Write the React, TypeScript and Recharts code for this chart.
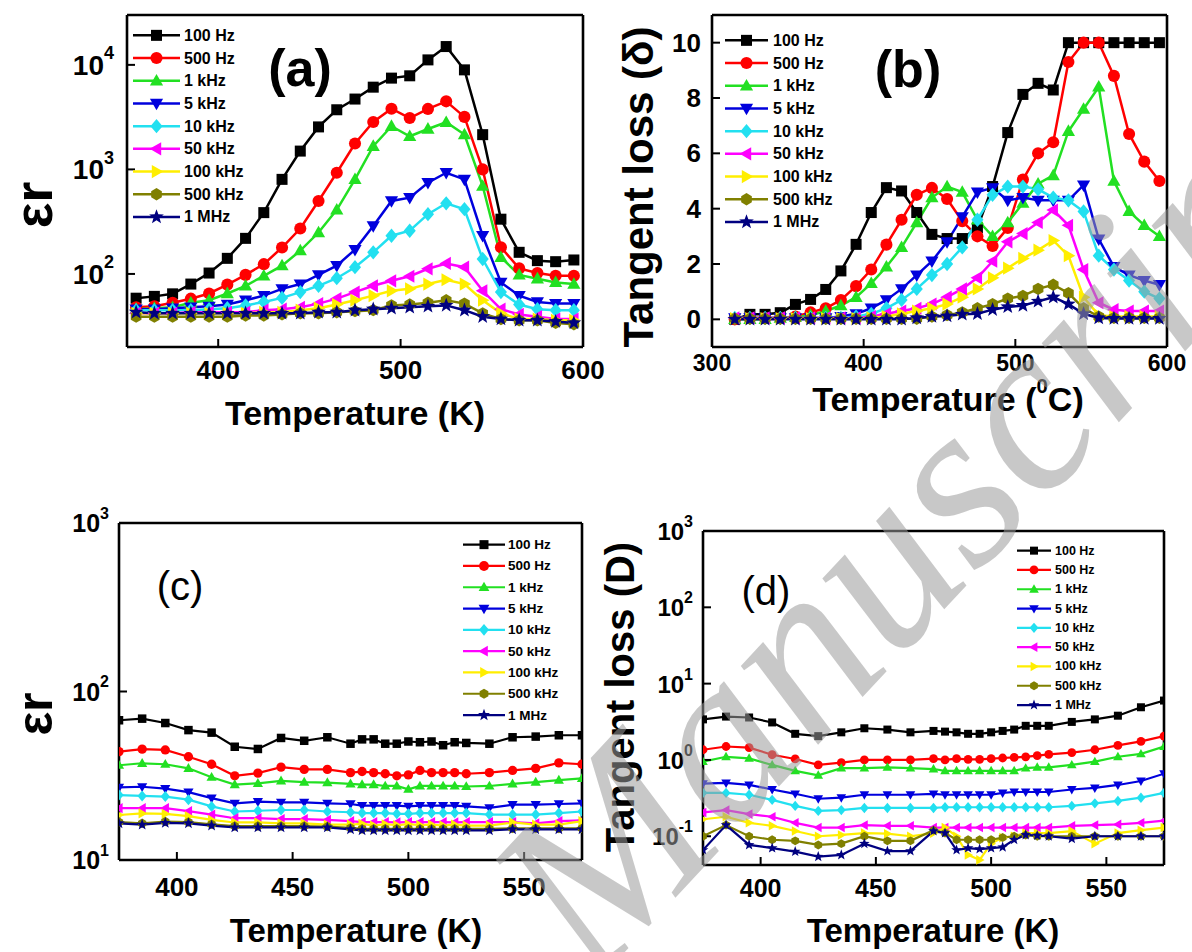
import React from 'react';
import { LineChart, Line, XAxis, YAxis, Legend } from 'recharts';

const FONT = '"Liberation Sans", Arial, Helvetica, sans-serif';

// ---------- series metadata ----------
const SERIES_NAMES = ['100 Hz', '500 Hz', '1 kHz', '5 kHz', '10 kHz', '50 kHz', '100 kHz', '500 kHz', '1 MHz'];
const SERIES_COLORS = ['#000000', '#ff0000', '#22e022', '#0000dd', '#22e0f0', '#ff00ff', '#ffee00', '#808000', '#000080'];
const SERIES_SHAPES = ['square', 'circle', 'triUp', 'triDown', 'diamond', 'triLeft', 'triRight', 'hexagon', 'star'];

// ---------- panel (a): permittivity vs T (K) ----------
const TEMP_A = [355, 365, 375, 385, 395, 405, 415, 425, 435, 445, 455, 465, 475, 485, 495, 505, 515, 525, 535, 545, 555, 565, 575, 585, 595];
const A_100HZ = [58.6, 61, 64.5, 80, 102, 141, 219, 386, 803, 1497, 2550, 3720, 4710, 6120, 7470, 7860, 11160, 14970, 8960, 2150, 334, 161, 134, 131, 136];
const A_500HZ = [48, 49, 53, 58, 65, 79, 98, 124, 179, 272, 499, 929, 1770, 2845, 3810, 3100, 3790, 4480, 3180, 1000, 180, 113, 102, 96, 96];
const A_1KHZ = [46, 47, 48, 53, 56, 65, 77, 96, 120, 167, 249, 410, 803, 1667, 2588, 2075, 2437, 2825, 2155, 693, 144, 98, 90, 83, 80];
const A_5KHZ = [46, 46, 47, 48, 49, 51, 56, 62, 72, 80, 98, 120, 171, 288, 499, 537, 746, 929, 803, 232, 83, 62, 54, 52, 52];
const A_10KHZ = [45, 45, 45, 45, 46, 47, 50, 54, 59, 67, 77, 91, 116, 161, 232, 259, 373, 474, 416, 139, 67, 51, 46, 45, 45];
const A_50KHZ = [42, 42, 42, 43, 43, 43, 43, 45, 46, 48, 52, 58, 67, 77, 86, 95, 112, 126, 116, 69, 46, 41, 39, 37, 37];
const A_100KHZ = [42, 42, 42, 42, 42, 42, 42, 43, 43, 45, 47, 51, 56, 62, 69, 72, 80, 88, 80, 56, 42, 37, 37, 36, 36];
const A_500KHZ = [39, 39, 39, 39, 39, 39, 40, 40, 41, 42, 42, 43, 44, 45, 50, 51, 53, 56, 52, 42, 37, 36, 36, 34, 33];
const A_1MHZ = [43, 42, 42, 42, 42, 42, 42, 42, 42, 42, 43, 43, 45, 46, 47, 48, 49, 50, 45, 39, 37, 36, 36, 35, 34];
const X_TICKS_A = [400, 500, 600];
const X_MINOR_A = [450, 550];
const Y_TICKS_A = [100, 1000, 10000];

// ---------- panel (b): tangent loss vs T (°C) ----------
const TEMP_B = [315, 325, 335, 345, 355, 365, 375, 385, 395, 405, 415, 425, 435, 445, 455, 465, 475, 485, 495, 505, 515, 525, 535, 545, 555, 565, 575, 585, 595];
const B_100HZ = [0, 0.18, 0.18, 0.24, 0.54, 0.72, 1.08, 1.75, 2.71, 3.86, 4.76, 4.64, 3.86, 3.07, 2.92, 2.92, 3.31, 4.8, 6.75, 8.13, 8.53, 8.29, 10, 10, 10, 10, 10, 10, 10];
const B_500HZ = [0, 0.05, 0.05, 0.05, 0.1, 0.25, 0.4, 0.7, 1.2, 1.8, 2.7, 3.6, 4.5, 4.75, 4.35, 3.55, 3.0, 2.65, 3.3, 5.05, 6.0, 6.4, 9.3, 10, 10, 8.8, 6.7, 5.7, 5.0];
const B_1KHZ = [0, 0, 0, 0.05, 0.08, 0.15, 0.3, 0.5, 0.8, 1.3, 1.9, 2.6, 3.5, 4.4, 4.8, 4.6, 3.6, 3.0, 3.5, 4.2, 4.9, 5.2, 6.8, 7.6, 8.4, 5.0, 3.9, 3.4, 3.0];
const B_5KHZ = [0.05, 0.05, 0.05, 0.05, 0.05, 0.05, 0.05, 0.1, 0.2, 0.4, 0.7, 1.1, 1.6, 2.1, 2.8, 3.7, 4.6, 4.75, 4.3, 4.4, 4.3, 4.3, 4.3, 4.85, 2.9, 1.9, 1.6, 1.4, 1.25];
const B_10KHZ = [0.05, 0.05, 0.05, 0.05, 0.05, 0.05, 0.05, 0.05, 0.1, 0.2, 0.4, 0.7, 1.1, 1.6, 2.0, 2.6, 3.6, 4.5, 4.8, 4.8, 4.7, 4.4, 4.3, 3.9, 2.3, 1.8, 1.4, 1.0, 0.75];
const B_50KHZ = [0.05, 0.05, 0.05, 0.05, 0.05, 0.05, 0.05, 0.05, 0.05, 0.1, 0.2, 0.3, 0.4, 0.55, 0.8, 1.1, 1.5, 2.1, 2.8, 3.1, 3.5, 3.95, 3.4, 1.8, 0.6, 0.35, 0.3, 0.3, 0.3];
const B_100KHZ = [0.03, 0.03, 0.03, 0.03, 0.03, 0.03, 0.03, 0.03, 0.03, 0.05, 0.1, 0.2, 0.3, 0.4, 0.55, 0.8, 1.1, 1.5, 1.85, 2.2, 2.5, 2.85, 2.3, 0.8, 0.15, 0.1, 0.1, 0.1, 0.1];
const B_500KHZ = [0.02, 0.02, 0.02, 0.02, 0.02, 0.02, 0.02, 0.02, 0.02, 0.02, 0.02, 0.02, 0.02, 0.1, 0.15, 0.25, 0.4, 0.55, 0.75, 0.85, 1.1, 1.25, 0.95, 0.4, 0.1, 0.05, 0.05, 0.05, 0.05];
const B_1MHZ = [0, 0, 0, 0, 0, 0, 0, 0, 0, 0, 0, 0, 0.05, 0.1, 0.12, 0.18, 0.2, 0.35, 0.45, 0.5, 0.65, 0.8, 0.55, 0.2, 0.05, 0.03, 0.03, 0.03, 0.03];
const X_TICKS_B = [300, 400, 500, 600];
const X_MINOR_B = [350, 450, 550];
const Y_TICKS_B = [0, 2, 4, 6, 8, 10];
const Y_MINOR_B = [1, 3, 5, 7, 9];

// ---------- panel (c): permittivity vs T (K) ----------
const TEMP_C = [375, 385, 395, 405, 415, 425, 435, 445, 455, 465, 475, 480, 485, 490, 495, 500, 505, 510, 515, 520, 525, 535, 545, 555, 565, 575];
const C_100HZ = [67.5, 69, 65, 59, 57, 47, 45.6, 53, 51, 53.5, 49, 52, 52, 49, 49, 50.5, 50, 50.5, 48, 50, 49.5, 49, 53.5, 54, 55, 55];
const C_500HZ = [44, 45.5, 45, 41, 37, 31.6, 32.8, 35.6, 34.5, 34.5, 33, 33.5, 33, 32.5, 31.6, 32, 34, 33, 33, 33, 32.5, 33, 34, 35, 37.7, 37];
const C_1KHZ = [36.5, 37.5, 37, 35, 31, 28, 28.5, 29.5, 29, 28.8, 28.3, 28, 28, 27.5, 27.5, 26.3, 27.5, 27.5, 27.5, 27.5, 27.3, 27.5, 28.3, 29, 29.8, 30.5];
const C_5KHZ = [27, 27.2, 26.5, 25.3, 23.3, 21.7, 22.2, 22, 22, 21.7, 21.5, 21, 21, 21, 21, 20.8, 21, 21, 21, 21, 20.8, 20.4, 21.3, 21.3, 21.5, 21.7];
const C_10KHZ = [24.3, 24, 23.8, 22.8, 20.8, 19.4, 19.6, 19.8, 19.8, 19.4, 19.2, 19, 19, 19, 18.8, 18.8, 19, 19, 19, 19, 19, 18.6, 18.6, 18.6, 19, 19.4];
const C_50KHZ = [20.3, 20.3, 20.3, 19.5, 18.6, 17.7, 17.7, 17.5, 17.5, 17.3, 17, 16.8, 16.8, 16.8, 16.7, 16.8, 16.8, 16.8, 16.8, 16.7, 16.8, 16.8, 16.8, 16.5, 17, 17.2];
const C_100KHZ = [18.5, 18.9, 18.8, 18.2, 17.3, 16.7, 16.7, 16.5, 16.5, 16.2, 16.2, 16.4, 16, 16.3, 16.1, 16.3, 16.1, 16.2, 16, 16.2, 16, 16, 16.7, 16.2, 16.2, 17];
const C_500KHZ = [16.8, 16.5, 16.9, 16.8, 16.3, 15.9, 15.9, 15.9, 15.9, 15.8, 15.5, 15.3, 15.3, 15.3, 15.3, 15.3, 15.3, 15.3, 15.3, 15.3, 15.3, 15.3, 15.4, 15.4, 15.4, 15.4];
const C_1MHZ = [16.5, 16.2, 16.6, 16.5, 16, 15.6, 15.6, 15.6, 15.6, 15.6, 15.2, 15, 15, 15, 15, 15, 15, 15, 15, 15, 15, 15, 15.2, 15.2, 15.2, 15.2];
const X_TICKS_C = [400, 450, 500, 550];
const X_MINOR_C = [425, 475, 525];
const Y_TICKS_C = [10, 100, 1000];

// ---------- panel (d): tangent loss vs T (K) ----------
const TEMP_D = [375, 385, 395, 405, 415, 425, 435, 445, 455, 465, 475, 480, 485, 490, 495, 500, 505, 510, 515, 520, 525, 535, 545, 555, 565, 575];
const D_100HZ = [3.4, 3.7, 3.6, 3.1, 2.2, 2.05, 2.3, 2.6, 2.5, 2.3, 2.4, 2.35, 2.3, 2.2, 2.2, 2.3, 2.4, 2.5, 2.8, 2.8, 2.8, 3.15, 3.4, 3.8, 4.9, 6.0];
const D_500HZ = [1.36, 1.5, 1.45, 1.17, 1.03, 0.86, 0.92, 1.0, 1.0, 1.0, 1.04, 1.0, 1.04, 1.02, 1.02, 1.04, 1.06, 1.08, 1.1, 1.14, 1.18, 1.25, 1.36, 1.55, 1.75, 2.05];
const D_1KHZ = [0.95, 1.1, 1.05, 0.86, 0.72, 0.63, 0.78, 0.78, 0.8, 0.78, 0.76, 0.72, 0.72, 0.72, 0.72, 0.72, 0.72, 0.72, 0.78, 0.8, 0.8, 0.86, 0.95, 1.1, 1.2, 1.5];
const D_5KHZ = [0.49, 0.5, 0.47, 0.41, 0.36, 0.31, 0.32, 0.35, 0.35, 0.35, 0.36, 0.35, 0.35, 0.35, 0.35, 0.35, 0.37, 0.38, 0.38, 0.38, 0.38, 0.41, 0.43, 0.47, 0.53, 0.66];
const D_10KHZ = [0.37, 0.37, 0.35, 0.3, 0.25, 0.215, 0.22, 0.235, 0.235, 0.235, 0.235, 0.24, 0.24, 0.24, 0.24, 0.24, 0.24, 0.24, 0.24, 0.24, 0.24, 0.25, 0.27, 0.29, 0.32, 0.37];
const D_50KHZ = [0.205, 0.22, 0.195, 0.18, 0.15, 0.13, 0.13, 0.14, 0.137, 0.137, 0.13, 0.13, 0.13, 0.13, 0.13, 0.13, 0.13, 0.13, 0.13, 0.13, 0.13, 0.137, 0.14, 0.143, 0.15, 0.16];
const D_100KHZ = [0.167, 0.18, 0.15, 0.137, 0.117, 0.1, 0.104, 0.11, 0.108, 0.1, 0.11, 0.13, 0.1, 0.057, 0.049, 0.08, 0.096, 0.1, 0.11, 0.11, 0.11, 0.117, 0.08, 0.11, 0.12, 0.13];
const D_500KHZ = [0.1, 0.14, 0.1, 0.09, 0.087, 0.077, 0.08, 0.1, 0.087, 0.087, 0.12, 0.11, 0.09, 0.09, 0.09, 0.09, 0.096, 0.1, 0.104, 0.1, 0.1, 0.1, 0.1, 0.1, 0.1, 0.1];
const D_1MHZ = [0.066, 0.14, 0.077, 0.07, 0.063, 0.054, 0.057, 0.08, 0.064, 0.064, 0.117, 0.11, 0.066, 0.07, 0.068, 0.07, 0.072, 0.09, 0.104, 0.102, 0.1, 0.093, 0.1, 0.1, 0.1, 0.1];
const X_TICKS_D = [400, 450, 500, 550];
const X_MINOR_D = [425, 475, 525];
const Y_TICKS_D = [0.1, 1, 10, 100, 1000];

// ---------- helpers ----------
function logMinor(lo: number, hi: number): number[] {
  const out: number[] = [];
  for (let e = Math.floor(Math.log10(lo)); e <= Math.ceil(Math.log10(hi)); e++) {
    for (let m = 2; m <= 9; m++) {
      const v = parseFloat((m * Math.pow(10, e)).toPrecision(3));
      if (v > lo && v < hi) out.push(v);
    }
  }
  return out;
}

function buildRows(temps: number[], series: number[][]) {
  return temps.map((t, i) => {
    const r: any = { t };
    series.forEach((s, k) => { r['s' + k] = s[i]; });
    return r;
  });
}

function MarkerShape({ shape, cx, cy, size, color }: any) {
  const r = size / 2;
  const pts = (arr: number[][]) => arr.map(([a, b]) => `${(cx + a).toFixed(2)},${(cy + b).toFixed(2)}`).join(' ');
  switch (shape) {
    case 'square':
      return <rect x={cx - r} y={cy - r} width={size} height={size} fill={color} />;
    case 'circle':
      return <circle cx={cx} cy={cy} r={r * 1.1} fill={color} />;
    case 'triUp':
      return <polygon points={pts([[0, -r * 1.25], [r * 1.2, r * 0.85], [-r * 1.2, r * 0.85]])} fill={color} />;
    case 'triDown':
      return <polygon points={pts([[0, r * 1.25], [r * 1.2, -r * 0.85], [-r * 1.2, -r * 0.85]])} fill={color} />;
    case 'triLeft':
      return <polygon points={pts([[-r * 1.25, 0], [r * 0.85, -r * 1.2], [r * 0.85, r * 1.2]])} fill={color} />;
    case 'triRight':
      return <polygon points={pts([[r * 1.25, 0], [-r * 0.85, -r * 1.2], [-r * 0.85, r * 1.2]])} fill={color} />;
    case 'diamond':
      return <polygon points={pts([[0, -r * 1.3], [r * 1.1, 0], [0, r * 1.3], [-r * 1.1, 0]])} fill={color} />;
    case 'hexagon': {
      const a: number[][] = [];
      for (let k = 0; k < 6; k++) {
        const ang = (Math.PI / 3) * k + Math.PI / 6;
        a.push([r * 1.12 * Math.cos(ang), r * 1.12 * Math.sin(ang)]);
      }
      return <polygon points={pts(a)} fill={color} />;
    }
    case 'star': {
      const a: number[][] = [];
      for (let k = 0; k < 10; k++) {
        const ang = -Math.PI / 2 + (k * Math.PI) / 5;
        const rr = k % 2 === 0 ? r * 1.4 : r * 0.58;
        a.push([rr * Math.cos(ang), rr * Math.sin(ang)]);
      }
      return <polygon points={pts(a)} fill={color} />;
    }
    default:
      return <circle cx={cx} cy={cy} r={r} fill={color} />;
  }
}

const makeDot = (shape: string, color: string, size: number) => (p: any) => {
  if (p.cx == null || p.cy == null || isNaN(p.cx) || isNaN(p.cy)) return <g key={`e${p.index}`} />;
  return <MarkerShape key={`m${p.index}`} shape={shape} cx={p.cx} cy={p.cy} size={size} color={color} />;
};

// ---------- panel configurations ----------
const PANELS: any[] = [
  {
    id: 'a', box: { x: 0, y: 0, w: 620, h: 440 }, plot: { L: 127, T: 15, R: 583, B: 347 },
    yW: 100, xH: 60, xDomain: [350, 600], xTicks: X_TICKS_A, xMinor: X_MINOR_A,
    yLog: true, yDomain: [20, 30000], yTicks: Y_TICKS_A,
    temps: TEMP_A, series: [A_100HZ, A_500HZ, A_1KHZ, A_5KHZ, A_10KHZ, A_50KHZ, A_100KHZ, A_500KHZ, A_1MHZ],
    xTickFs: 26, xTickDy: 23, yTickFs: 28, yTickSup: 18, yTickGap: 13,
    xTitle: { x: 355, y: 413, fs: 34 }, xTitleText: 'Temperature (K)',
    yTitle: { x: 52, y: 205, fs: 54 }, yTitleText: 'εr',
    letter: { x: 300, y: 68, fs: 52, bold: true, text: '(a)' },
    legend: { x: 133, y0: 35, step: 22.7, lineLen: 47, gap: 4, fs: 16, marker: 11 },
    marker: 11, sw: 2.5,
  },
  {
    id: 'b', box: { x: 596, y: 0, w: 596, h: 440 }, plot: { L: 712, T: 15, R: 1167, B: 347 },
    yW: 80, xH: 60, xDomain: [300, 600], xTicks: X_TICKS_B, xMinor: X_MINOR_B,
    yLog: false, yDomain: [-1, 11], yTicks: Y_TICKS_B, yMinor: Y_MINOR_B,
    temps: TEMP_B, series: [B_100HZ, B_500HZ, B_1KHZ, B_5KHZ, B_10KHZ, B_50KHZ, B_100KHZ, B_500KHZ, B_1MHZ],
    xTickFs: 23, xTickDy: 16, yTickFs: 26, yTickGap: 11,
    xTitle: { x: 948, y: 399, fs: 34 }, xTitleText: 'Temperature (°C)', xTitleSup: true,
    yTitle: { x: 653, y: 187, fs: 42 }, yTitleText: 'Tangent loss (δ)',
    letter: { x: 908, y: 69, fs: 52, bold: true, text: '(b)' },
    legend: { x: 725, y0: 40, step: 22.7, lineLen: 43, gap: 5, fs: 16, marker: 11 },
    marker: 11, sw: 2.5,
  },
  {
    id: 'c', box: { x: 0, y: 440, w: 620, h: 512 }, plot: { L: 119, T: 523, R: 582, B: 860 },
    yW: 90, xH: 60, xDomain: [375, 575], xTicks: X_TICKS_C, xMinor: X_MINOR_C,
    yLog: true, yDomain: [10, 1000], yTicks: Y_TICKS_C,
    temps: TEMP_C, series: [C_100HZ, C_500HZ, C_1KHZ, C_5KHZ, C_10KHZ, C_50KHZ, C_100KHZ, C_500KHZ, C_1MHZ],
    xTickFs: 26, xTickDy: 27, yTickFs: 25, yTickSup: 16, yTickGap: 10,
    xTitle: { x: 356, y: 930, fs: 33 }, xTitleText: 'Temperature (K)',
    yTitle: { x: 52, y: 714, fs: 50 }, yTitleText: 'εr',
    letter: { x: 180, y: 586, fs: 40, bold: false, text: '(c)' },
    legend: { x: 463, y0: 544.5, step: 21.3, lineLen: 42, gap: 3, fs: 13.5, marker: 9 },
    marker: 8.5, sw: 2.2,
  },
  {
    id: 'd', box: { x: 596, y: 440, w: 596, h: 512 }, plot: { L: 703, T: 531, R: 1164, B: 865 },
    yW: 80, xH: 60, xDomain: [375, 575], xTicks: X_TICKS_D, xMinor: X_MINOR_D,
    yLog: true, yDomain: [0.042, 1000], yTicks: Y_TICKS_D,
    temps: TEMP_D, series: [D_100HZ, D_500HZ, D_1KHZ, D_5KHZ, D_10KHZ, D_50KHZ, D_100KHZ, D_500KHZ, D_1MHZ],
    xTickFs: 25, xTickDy: 23, yTickFs: 24, yTickSup: 16, yTickGap: 10,
    xTitle: { x: 933, y: 930, fs: 33 }, xTitleText: 'Temperature (K)',
    yTitle: { x: 634, y: 697, fs: 40 }, yTitleText: 'Tangent loss (D)',
    letter: { x: 766, y: 591, fs: 40, bold: false, text: '(d)' },
    legend: { x: 1017, y0: 551, step: 19.3, lineLen: 34, gap: 4, fs: 12.5, marker: 8 },
    marker: 8, sw: 2.2,
  },
];

function LegendBox({ lg, sw }: any) {
  const W = lg.lineLen + lg.gap + 110;
  const H = lg.step * SERIES_NAMES.length;
  return (
    <svg width={W} height={H} style={{ display: 'block', overflow: 'visible' }}>
      {SERIES_NAMES.map((name, i) => {
        const y = lg.step / 2 + i * lg.step;
        return (
          <g key={name}>
            <line x1={0} x2={lg.lineLen} y1={y} y2={y} stroke={SERIES_COLORS[i]} strokeWidth={sw} />
            <MarkerShape shape={SERIES_SHAPES[i]} cx={lg.lineLen / 2} cy={y} size={lg.marker} color={SERIES_COLORS[i]} />
            <text x={lg.lineLen + lg.gap} y={y} dominantBaseline="central" fontFamily={FONT} fontWeight="bold" fontSize={lg.fs} fill="#000">
              {name}
            </text>
          </g>
        );
      })}
    </svg>
  );
}

function Panel({ c }: any) {
  const ox = c.box.x;
  const oy = c.box.y;
  const L = c.plot.L - ox, T = c.plot.T - oy, R = c.plot.R - ox, B = c.plot.B - oy;
  const margin = { left: L - c.yW - 1, top: T - 2, right: c.box.w - R - 2, bottom: c.box.h - B - 1 - c.xH };
  const rows = buildRows(c.temps, c.series);
  const axisLine = { stroke: '#000', strokeWidth: 2.6 };
  const tl = { stroke: '#000', strokeWidth: 2 };
  const yMinor = c.yLog ? logMinor(c.yDomain[0], c.yDomain[1]) : c.yMinor;
  const xCommon: any = { dataKey: 't', type: 'number', domain: c.xDomain, allowDataOverflow: true, interval: 0 };
  const yCommon: any = { type: 'number', domain: c.yDomain, allowDataOverflow: true, interval: 0, scale: c.yLog ? 'log' : 'linear' };

  const xTick = (p: any) => (
    <text x={p.x} y={p.y + c.xTickDy} textAnchor="middle" dominantBaseline="central" fontFamily={FONT} fontWeight="bold" fontSize={c.xTickFs} fill="#000">
      {p.payload.value}
    </text>
  );
  const yTick = (p: any) => {
    if (c.yLog) {
      const e = Math.round(Math.log10(p.payload.value));
      return (
        <text x={p.x - c.yTickGap} y={p.y} textAnchor="end" dominantBaseline="central" fontFamily={FONT} fontWeight="bold" fontSize={c.yTickFs} fill="#000">
          <tspan>10</tspan>
          <tspan fontSize={c.yTickSup} dy={-c.yTickFs * 0.42}>{e}</tspan>
        </text>
      );
    }
    return (
      <text x={p.x - c.yTickGap} y={p.y} textAnchor="end" dominantBaseline="central" fontFamily={FONT} fontWeight="bold" fontSize={c.yTickFs} fill="#000">
        {p.payload.value}
      </text>
    );
  };

  const titles = () => {
    const xt = c.xTitle, yt = c.yTitle, lt = c.letter;
    const yx = yt.x - ox, yy = yt.y - oy;
    return (
      <g>
        <text x={xt.x - ox} y={xt.y - oy} textAnchor="middle" dominantBaseline="central" fontFamily={FONT} fontWeight="bold" fontSize={xt.fs} fill="#000">
          {c.xTitleSup ? (
            <>
              <tspan>Temperature (</tspan>
              <tspan fontSize={xt.fs * 0.6} dy={-xt.fs * 0.38}>0</tspan>
              <tspan dy={xt.fs * 0.38}>C)</tspan>
            </>
          ) : c.xTitleText}
        </text>
        <text x={yx} y={yy} transform={`rotate(-90 ${yx} ${yy})`} textAnchor="middle" fontFamily={FONT} fontWeight="bold" fontSize={yt.fs} fill="#000">
          {c.yTitleText}
        </text>
        <text x={lt.x - ox} y={lt.y - oy} textAnchor="middle" dominantBaseline="central" fontFamily={FONT} fontWeight={lt.bold ? 'bold' : 'normal'} fontSize={lt.fs} fill="#000">
          {lt.text}
        </text>
      </g>
    );
  };

  const lg = c.legend;
  return (
    <div style={{ position: 'absolute', left: ox, top: oy, width: c.box.w, height: c.box.h }}>
      <LineChart width={c.box.w} height={c.box.h} data={rows} margin={margin}>
        <XAxis {...xCommon} xAxisId="bm" ticks={c.xMinor} height={1} axisLine={false} tickLine={tl} tickSize={-4} tick={false} />
        <XAxis {...xCommon} xAxisId="b" ticks={c.xTicks} height={c.xH} axisLine={axisLine} tickLine={tl} tickSize={-8} tickMargin={8} tick={xTick} label={titles} />
        <XAxis {...xCommon} xAxisId="t" orientation="top" ticks={c.xTicks} height={1} axisLine={axisLine} tickLine={tl} tickSize={-8} tick={false} />
        <XAxis {...xCommon} xAxisId="tm" orientation="top" ticks={c.xMinor} height={1} axisLine={false} tickLine={tl} tickSize={-4} tick={false} />
        <YAxis {...yCommon} yAxisId="lm" ticks={yMinor} width={1} axisLine={false} tickLine={tl} tickSize={-4} tick={false} />
        <YAxis {...yCommon} yAxisId="l" ticks={c.yTicks} width={c.yW} axisLine={axisLine} tickLine={tl} tickSize={-8} tickMargin={8} tick={yTick} />
        <YAxis {...yCommon} yAxisId="r" orientation="right" ticks={c.yTicks} width={1} axisLine={axisLine} tickLine={tl} tickSize={-8} tick={false} />
        <YAxis {...yCommon} yAxisId="rm" orientation="right" ticks={yMinor} width={1} axisLine={false} tickLine={tl} tickSize={-4} tick={false} />
        <Legend
          layout="vertical"
          align="center"
          verticalAlign="middle"
          wrapperStyle={{ left: lg.x - ox, top: lg.y0 - lg.step / 2 - oy, width: lg.lineLen + lg.gap + 110, height: lg.step * 9 }}
          content={() => <LegendBox lg={lg} sw={c.sw} />}
        />
        {SERIES_NAMES.map((name, k) => (
          <Line
            key={name}
            name={name}
            xAxisId="b"
            yAxisId="l"
            dataKey={'s' + k}
            stroke={SERIES_COLORS[k]}
            strokeWidth={c.sw}
            dot={makeDot(SERIES_SHAPES[k], SERIES_COLORS[k], c.marker)}
            activeDot={false}
            isAnimationActive={false}
            legendType="none"
          />
        ))}
      </LineChart>
    </div>
  );
}

// watermark overlay text (as printed on the reference page)
const WATERMARK = { text: 'Manuscript', x: 594, y: 985, angle: -47, fs: 240 };

export default function App() {
  const w = WATERMARK;
  return (
    <div style={{ position: 'absolute', left: 0, top: 0, width: 1192, height: 952, background: '#fff', overflow: 'hidden' }}>
      {PANELS.map((p) => (
        <Panel key={p.id} c={p} />
      ))}
      <svg width={1192} height={952} style={{ position: 'absolute', left: 0, top: 0, pointerEvents: 'none' }}>
        <text
          x={w.x}
          y={w.y}
          transform={`rotate(${w.angle} ${w.x} ${w.y})`}
          fontFamily='"Liberation Serif", "DejaVu Serif", serif'
          fontStyle="italic"
          fontSize={w.fs}
          fill="#9a9a9a"
          fillOpacity={0.55}
        >
          {w.text}
        </text>
      </svg>
    </div>
  );
}
